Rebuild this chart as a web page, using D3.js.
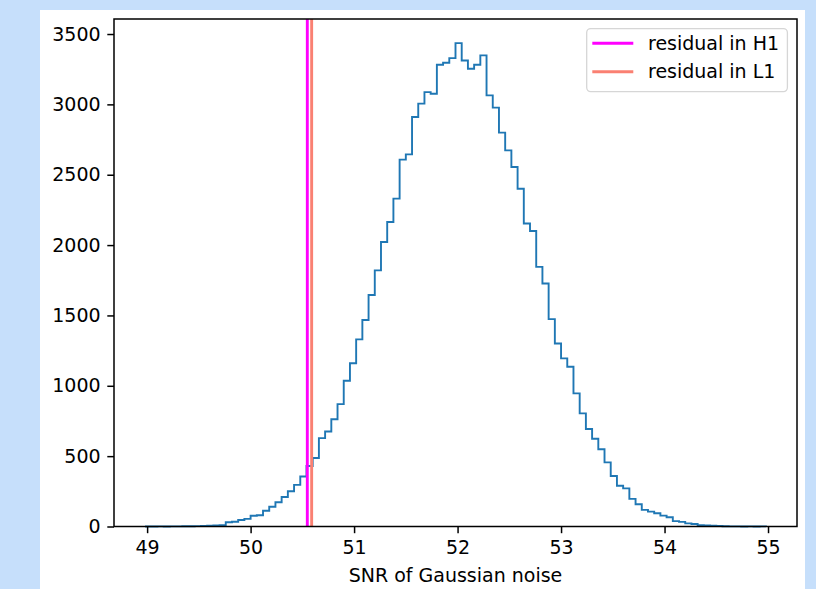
<!DOCTYPE html>
<html lang="en">
<head>
  <meta charset="utf-8">
  <style>
    html, body {
      margin: 0;
      padding: 0;
      background: #c6dffb;
      width: 100%;
      height: 100%;
      overflow: hidden;
      font-family: "DejaVu Sans", sans-serif;
    }

    svg {
      display: block;
    }
  </style>
</head>
<body>
<svg></svg>

<script src="https://d3js.org/d3.v7.min.js"></script>
<script>
// histogram of SNR values, 100 bins
const binStart = 48.98;
const binWidth = 0.06;
const counts = [
  0, 0, 1, 0, 1, 1, 2, 2, 3, 4,
  6, 8, 10, 30, 34, 46, 54, 76, 80, 112,
  140, 172, 210, 250, 296, 355, 430, 487, 628, 675,
  762, 870, 1036, 1160, 1330, 1468, 1645, 1820, 2022, 2164,
  2330, 2607, 2645, 2910, 3005, 3087, 3076, 3282, 3296, 3329,
  3435, 3312, 3253, 3282, 3348, 3064, 2977, 2799, 2673, 2555,
  2400, 2153, 2100, 1845, 1727, 1474, 1301, 1195, 1135, 946,
  804, 693, 624, 549, 456, 359, 290, 271, 196, 158,
  118, 106, 94, 77, 66, 38, 33, 22, 18, 9,
  7, 5, 4, 2, 1, 1, 0, 1, 0, 1
];

// residual SNRs (vertical lines)
const residualLabels = ["residual in H1", "residual in L1"];
const residualValues = [50.548, 50.59];

const xTicks = [49, 50, 51, 52, 53, 54, 55];
const yTicks = [0, 500, 1000, 1500, 2000, 2500, 3000, 3500];
const xLabel = "SNR of Gaussian noise";

// ---- layout ----
const W = 816, H = 589;
const plot = { left: 114, right: 797, top: 19, bottom: 526.5 };
const fontSize = 19;
const tickLen = 6.7;
const tickPad = 6.7;
const residualColors = ["#ff00ff", "#fa8072"];

const svg = d3.select("svg").attr("width", W).attr("height", H);

// white figure panel
svg.append("rect")
  .attr("x", 40).attr("y", 10)
  .attr("width", 765).attr("height", H)
  .attr("fill", "#fff");

const edges = d3.range(counts.length + 1).map(i => binStart + i * binWidth);
const xMin = edges[0], xMax = edges[edges.length - 1];
const xPad = (xMax - xMin) * 0.05;

const x = d3.scaleLinear()
  .domain([xMin - xPad, xMax + xPad])
  .range([plot.left, plot.right]);

const y = d3.scaleLinear()
  .domain([0, d3.max(counts) * 1.05])
  .range([plot.bottom, plot.top]);

// step outline
const pts = [[edges[0], 0]];
counts.forEach((c, i) => pts.push([edges[i], c]));
pts.push([edges[counts.length], 0]);

const stepLine = d3.line()
  .x(d => x(d[0]))
  .y(d => y(d[1]))
  .curve(d3.curveStepAfter);

const clip = svg.append("clipPath").attr("id", "plotclip")
  .append("rect")
  .attr("x", plot.left).attr("y", plot.top)
  .attr("width", plot.right - plot.left)
  .attr("height", plot.bottom - plot.top);

svg.append("path")
  .datum(pts)
  .attr("d", stepLine)
  .attr("fill", "none")
  .attr("stroke", "#1f77b4")
  .attr("stroke-width", 1.9)
  .attr("stroke-linejoin", "miter");

// vertical residual lines
svg.append("g")
  .selectAll("line")
  .data(residualValues)
  .join("line")
  .attr("x1", d => x(d))
  .attr("x2", d => x(d))
  .attr("y1", plot.top)
  .attr("y2", plot.bottom)
  .attr("stroke", (d, i) => residualColors[i])
  .attr("stroke-width", 2.9);

// axes
const xAxis = svg.append("g")
  .attr("transform", `translate(0,${plot.bottom})`)
  .call(d3.axisBottom(x).tickValues(xTicks).tickSize(tickLen).tickPadding(tickPad).tickFormat(d3.format("d")));

const yAxis = svg.append("g")
  .attr("transform", `translate(${plot.left},0)`)
  .call(d3.axisLeft(y).tickValues(yTicks).tickSize(tickLen).tickPadding(tickPad).tickFormat(d3.format("d")));

[xAxis, yAxis].forEach(a => {
  a.select(".domain").remove();
  a.selectAll(".tick line").attr("stroke", "#000").attr("stroke-width", 1.5);
  a.selectAll(".tick text")
    .attr("fill", "#000")
    .style("font-family", "'DejaVu Sans', sans-serif")
    .style("font-size", fontSize + "px");
});
xAxis.selectAll(".tick text").attr("dy", "0.76em");

// frame
svg.append("rect")
  .attr("x", plot.left).attr("y", plot.top)
  .attr("width", plot.right - plot.left)
  .attr("height", plot.bottom - plot.top)
  .attr("fill", "none")
  .attr("stroke", "#000")
  .attr("stroke-width", 1.5);

// x label
svg.append("text")
  .attr("x", (plot.left + plot.right) / 2)
  .attr("y", 582)
  .attr("text-anchor", "middle")
  .style("font-size", fontSize + "px")
  .text(xLabel);

// legend
const leg = svg.append("g");
leg.append("rect")
  .attr("x", 586.7).attr("y", 28.6)
  .attr("width", 200.7).attr("height", 63)
  .attr("rx", 4)
  .attr("fill", "#fff")
  .attr("fill-opacity", 0.8)
  .attr("stroke", "#d6d6d6")
  .attr("stroke-width", 1.3);

const rows = leg.selectAll("g.row")
  .data(residualLabels)
  .join("g")
  .attr("class", "row")
  .attr("transform", (d, i) => `translate(0,${43.3 + i * 28.4})`);

rows.append("line")
  .attr("x1", 592.3).attr("x2", 633.3)
  .attr("stroke", (d, i) => residualColors[i])
  .attr("stroke-width", 2.9);

rows.append("text")
  .attr("x", 648)
  .attr("dy", "0.35em")
  .style("font-size", fontSize + "px")
  .attr("fill", "#000")
  .text(d => d);
</script>
</body>
</html>
